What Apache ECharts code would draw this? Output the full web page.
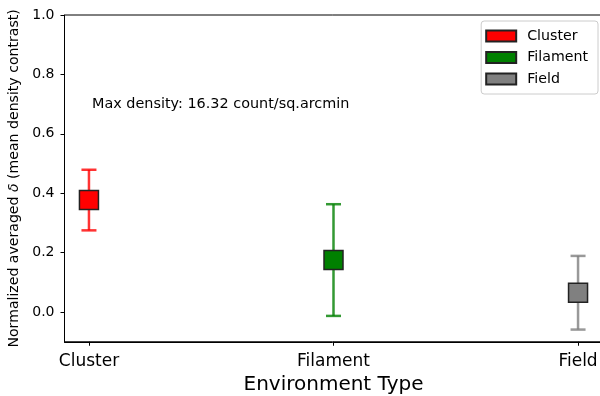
<!DOCTYPE html>
<html>
<head>
<meta charset="utf-8">
<script src="https://cdn.jsdelivr.net/npm/echarts@6/dist/echarts.min.js"></script>
<style>html,body{margin:0;padding:0;background:#fff}#c{width:600px;height:396px}</style>
</head>
<body>
<div id="c"></div>
<script>
var categories = ['Cluster', 'Filament', 'Field'];
var means = [0.377, 0.175, 0.065];
var errors = [0.102, 0.188, 0.124];
var colors = ['#ff0000', '#008000', '#808080'];
var errColors = ['rgba(255,0,0,0.8)', 'rgba(0,128,0,0.8)', 'rgba(128,128,128,0.8)'];
var yTicks = [0, 0.2, 0.4, 0.6, 0.8, 1.0];
var xTicks = [0, 1, 2];

var FONT = 'DejaVu Sans';
var chart = echarts.init(document.getElementById('c'), null, {renderer: 'canvas'});

var series = [];
categories.forEach(function (name, i) {
  series.push({
    name: name + ' err',
    type: 'custom',
    z: 2,
    data: [[i, means[i], errors[i]]],
    renderItem: function (params, api) {
      var x = api.value(0), m = api.value(1), e = api.value(2);
      var top = api.coord([x, m + e]);
      var bot = api.coord([x, m - e]);
      var cw = 7.5;
      var st = {stroke: errColors[i], lineWidth: 2.5};
      return {
        type: 'group',
        children: [
          {type: 'line', shape: {x1: top[0], y1: top[1], x2: bot[0], y2: bot[1]}, style: st},
          {type: 'line', shape: {x1: top[0] - cw, y1: top[1], x2: top[0] + cw, y2: top[1]}, style: st},
          {type: 'line', shape: {x1: bot[0] - cw, y1: bot[1], x2: bot[0] + cw, y2: bot[1]}, style: st}
        ]
      };
    }
  });
});
categories.forEach(function (name, i) {
  series.push({
    name: name,
    type: 'scatter',
    z: 5,
    symbol: 'rect',
    symbolSize: 19,
    data: [[i, means[i]]],
    itemStyle: {color: colors[i], borderColor: '#222', borderWidth: 1.5, opacity: 1},
    emphasis: {disabled: true}
  });
});

chart.setOption({
  animation: false,
  backgroundColor: '#fff',
  textStyle: {fontFamily: FONT},
  grid: {left: 64.5, top: 15, width: 538, height: 326.75, show: true, borderColor: '#000', borderWidth: 1,
    backgroundColor: 'transparent', containLabel: false, outerBoundsMode: 'none'},
  xAxis: {
    type: 'value', min: -0.1, max: 2.1,
    name: 'Environment Type', nameLocation: 'middle', nameGap: 33,
    nameTextStyle: {fontSize: 20, color: '#000', fontFamily: FONT},
    axisLine: {show: true, onZero: false, lineStyle: {color: '#000', width: 1}},
    axisTick: {show: true, inside: false, length: 4, lineStyle: {color: '#000'}, customValues: xTicks},
    axisLabel: {customValues: xTicks, fontSize: 17, color: '#000', margin: 11, fontFamily: FONT,
      formatter: function (v) { return categories[Math.round(v)] || ''; }},
    splitLine: {show: false}
  },
  yAxis: {
    type: 'value', min: -0.1, max: 1.0,
    name: 'Normalized averaged {i|δ} (mean density contrast)', nameLocation: 'middle', nameGap: 41,
    nameTextStyle: {fontSize: 14.1, color: '#000', fontFamily: FONT, rich: {i: {fontStyle: 'italic', fontSize: 14.1, fontFamily: FONT, color: '#000'}}},
    axisLine: {show: true, onZero: false, lineStyle: {color: '#000', width: 1}},
    axisTick: {show: true, inside: false, length: 4, lineStyle: {color: '#000'}, customValues: yTicks},
    axisLabel: {customValues: yTicks, fontSize: 14, color: '#000', margin: 10, fontFamily: FONT,
      formatter: function (v) { return v.toFixed(1); }},
    splitLine: {show: false}
  },
  legend: {
    data: categories,
    orient: 'vertical',
    right: 2, top: 21,
    icon: 'rect',
    itemWidth: 30, itemHeight: 11,
    itemGap: 7.5,
    padding: [8, 10, 8, 4],
    backgroundColor: '#fff',
    borderColor: '#ccc', borderWidth: 1, borderRadius: 3,
    textStyle: {fontSize: 14.2, color: '#000', fontFamily: FONT, padding: [0, 0, 0, 6]},
    selectedMode: false
  },
  graphic: [{
    type: 'text', left: 92, top: 97,
    style: {text: 'Max density: 16.32 count/sq.arcmin', fontSize: 14.4, fill: '#000', fontFamily: FONT}
  }],
  series: series
});
</script>
</body>
</html>
